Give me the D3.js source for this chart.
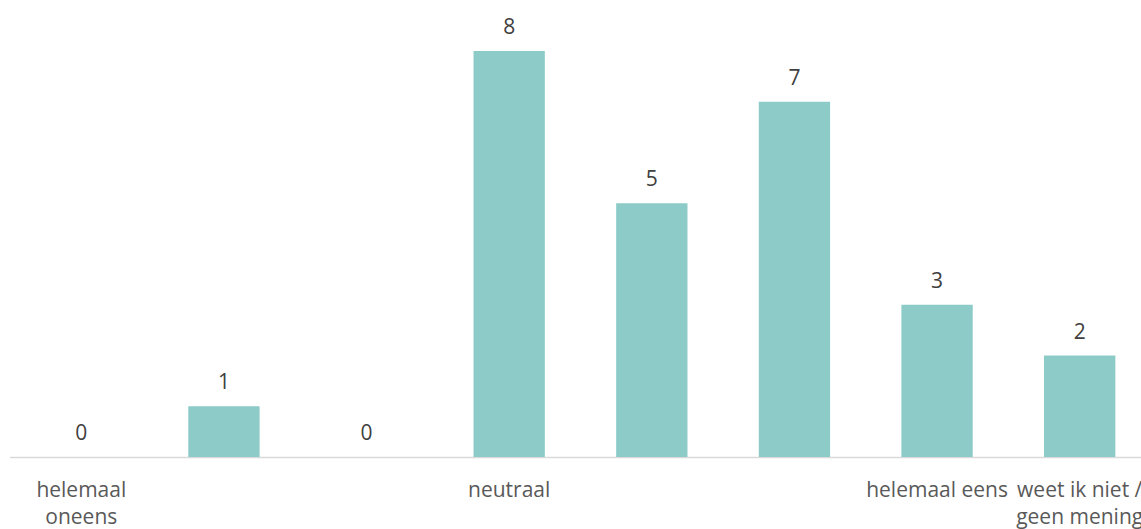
<!DOCTYPE html>
<html><head><meta charset="utf-8">
<script src="https://cdn.jsdelivr.net/npm/d3@7"></script>
<style>body{margin:0;background:#fff;} svg{display:block;}</style>
</head><body>
<svg id="chart" width="1141" height="529"></svg>
<script>
const categories = ["helemaal oneens","c2","c3","neutraal","c5","c6","helemaal eens","weet ik niet / geen mening"];
const labelLines = [["helemaal","oneens"],[],[],["neutraal"],[],[],["helemaal eens"],["weet ik niet /","geen mening"]];
const values = [0,1,0,8,5,7,3,2];

const svg = d3.select("#chart");
const font = "'Open Sans', sans-serif";
const x = d3.scaleBand().domain(categories).range([10, 1151]).paddingInner(0.5).paddingOuter(0.25);
const y = d3.scaleLinear().domain([0, 8]).range([457, 51]);

svg.append("line").attr("x1",10).attr("x2",1141).attr("y1",457.5).attr("y2",457.5)
  .attr("stroke","#d9d9d9").attr("stroke-width",1.5);

svg.selectAll("rect.bar").data(values).join("rect").attr("class","bar")
  .attr("x",(d,i)=>x(categories[i])).attr("width",x.bandwidth())
  .attr("y",d=>y(d)).attr("height",d=>y(0)-y(d)).attr("fill","#8ccbc8");

svg.selectAll("text.val").data(values).join("text").attr("class","val")
  .attr("x",(d,i)=>x(categories[i])+x.bandwidth()/2).attr("y",d=>y(d)-17)
  .attr("text-anchor","middle").attr("font-family",font).attr("font-size",21).attr("fill","#404040")
  .text(d=>d);

const lab = svg.selectAll("text.cat").data(labelLines).join("text").attr("class","cat")
  .attr("x",(d,i)=>x(categories[i])+x.bandwidth()/2).attr("y",497)
  .attr("text-anchor","middle").attr("font-family",font).attr("font-size",21).attr("fill","#595959");
lab.each(function(lines){
  const t=d3.select(this); const cx=t.attr("x");
  lines.forEach((l,j)=>t.append("tspan").attr("x",cx).attr("dy",j?27:0).text(l));
});
</script>
</body></html>
